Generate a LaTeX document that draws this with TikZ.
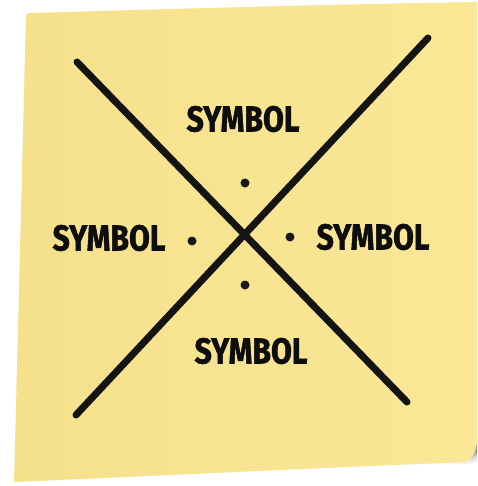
\documentclass[tikz,border=0pt]{standalone}
\usepackage{fontspec}
\newfontfamily\brushfont[BoldFeatures={FakeBold=1.6}]{Fira Sans}
\usepackage{xcolor}
\usetikzlibrary{positioning, calc}

\definecolor{noteleft}{HTML}{F5E08C}
\definecolor{noteright}{HTML}{FAE897}

\begin{document}
\begin{tikzpicture}[
  x=1pt, y=-1pt,
  stroke/.style  = {line width=7pt, line cap=round, color=black!92},
  symtext/.style = {font=\brushfont\bfseries\fontsize{36}{36}\selectfont,
                    text=black!95, inner sep=0pt, xscale=0.84, transform shape},
  dot/.style     = {circle, fill=black!90, inner sep=0pt, minimum size=9pt}
]
\useasboundingbox (0,0) rectangle (477,486);
\fill[white] (0,0) rectangle (477,486);

% ── Shadow under the curled corner ────────────────────────────────────────────
\foreach \o/\a in {12/0.05, 9/0.07, 6/0.10, 4/0.13, 2/0.16}
  \fill[black, opacity=\a]
    (160,472) .. controls (300,468) and (420,462) .. (472,452+\o)
    -- (477,450+\o) -- (477,440) -- (160,462) -- cycle;

% ── Sticky note ───────────────────────────────────────────────────────────────
\shade[left color=noteleft, right color=noteright]
  (26,16) .. controls (27,13) and (29,13) .. (32,13)
  .. controls (200,8) and (350,4) .. (477,2)
  -- (477,442) .. controls (476,452) and (473,458) .. (466,462)
  .. controls (320,468) and (150,476) .. (14,482)
  .. controls (18,330) and (22,170) .. (26,16) -- cycle;

% ── Crossing strokes ──────────────────────────────────────────────────────────
\coordinate (nw) at (77,62);
\coordinate (se) at (407,402);
\coordinate (ne) at (428,38);
\coordinate (sw) at (76,415);
\draw[stroke] (nw) -- (se);
\draw[stroke] (ne) -- (sw);

% ── Labels ────────────────────────────────────────────────────────────────────
\node[symtext] (symTop)    at (243,119) {SYMBOL};
\node[symtext] (symLeft)   at (109,238) {SYMBOL};
\node[symtext] (symRight)  at (373,237) {SYMBOL};
\node[symtext] (symBottom) at (251,351) {SYMBOL};

% ── Dots ──────────────────────────────────────────────────────────────────────
\node[dot] (dotTop)    at (245,183) {};
\node[dot] (dotLeft)   at (192,241) {};
\node[dot] (dotRight)  at (290,237) {};
\node[dot] (dotBottom) at (245,285) {};

\end{tikzpicture}
\end{document}
